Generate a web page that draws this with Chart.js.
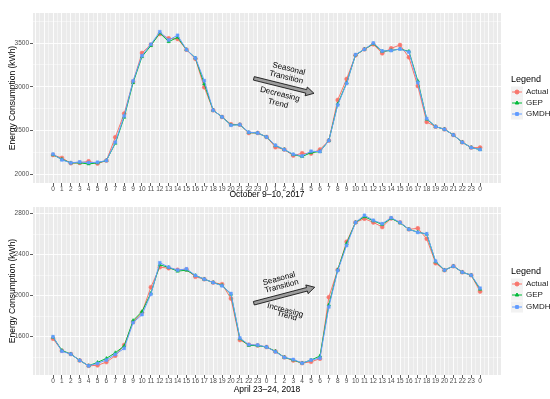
<!DOCTYPE html>
<html>
<head>
<meta charset="utf-8">
<script src="https://cdn.jsdelivr.net/npm/chart.js@4.4.0/dist/chart.umd.min.js"></script>
<style>
  html, body { margin: 0; padding: 0; background: #fff; }
  canvas { display: block; }
</style>
</head>
<body>
<canvas id="octChart" width="550" height="200"></canvas>
<canvas id="aprChart" width="550" height="199"></canvas>
<script>
// hour of day shown under each point (two days + closing midnight)
const hourLabels = [0, 1, 2, 3, 4, 5, 6, 7, 8, 9, 10, 11, 12, 13, 14, 15, 16, 17, 18, 19, 20, 21, 22, 23,
  0, 1, 2, 3, 4, 5, 6, 7, 8, 9, 10, 11, 12, 13, 14, 15, 16, 17, 18, 19, 20, 21, 22, 23, 0];

const seriesNames = ['Actual', 'GEP', 'GMDH'];

// October 9-10, 2017
const octActual = [2220, 2187, 2126, 2130, 2148, 2122, 2156, 2423, 2693, 3058, 3386, 3481, 3603, 3553, 3546, 3424,
  3320, 2994, 2731, 2655, 2571, 2567, 2472, 2472, 2426, 2310, 2282, 2213, 2240, 2236, 2282, 2385, 2849, 3089, 3360,
  3428, 3485, 3382, 3439, 3477, 3336, 3009, 2598, 2544, 2514, 2449, 2365, 2305, 2305];
const octGEP = [2222, 2171, 2130, 2130, 2118, 2130, 2156, 2354, 2651, 3047, 3344, 3470, 3614, 3515, 3565, 3424,
  3329, 3032, 2731, 2655, 2563, 2567, 2476, 2472, 2426, 2327, 2282, 2224, 2202, 2247, 2259, 2385, 2803, 3045, 3363,
  3428, 3492, 3405, 3415, 3431, 3405, 3066, 2630, 2544, 2514, 2449, 2365, 2305, 2282];
const octGMDH = [2230, 2164, 2130, 2141, 2133, 2137, 2156, 2365, 2666, 3066, 3355, 3485, 3629, 3534, 3588, 3424,
  3329, 3070, 2731, 2655, 2560, 2567, 2480, 2472, 2426, 2331, 2282, 2228, 2209, 2263, 2259, 2385, 2792, 3039, 3367,
  3428, 3500, 3409, 3413, 3431, 3397, 3047, 2636, 2544, 2514, 2449, 2365, 2305, 2282];
const octTicks = [2000, 2500, 3000, 3500];

// April 23-24, 2018
const aprActual = [1580, 1463, 1430, 1368, 1316, 1320, 1352, 1414, 1518, 1743, 1835, 2083, 2278, 2268, 2252, 2255,
  2184, 2161, 2128, 2112, 1972, 1567, 1522, 1515, 1499, 1455, 1398, 1368, 1342, 1355, 1385, 1985, 2252, 2526, 2715,
  2751, 2715, 2670, 2754, 2715, 2647, 2657, 2555, 2317, 2249, 2288, 2229, 2200, 2040];
const aprGEP = [1595, 1466, 1430, 1368, 1316, 1349, 1388, 1443, 1509, 1757, 1845, 2024, 2301, 2275, 2239, 2249,
  2197, 2161, 2128, 2100, 2014, 1580, 1515, 1512, 1499, 1458, 1398, 1372, 1342, 1372, 1411, 1910, 2252, 2510, 2715,
  2770, 2730, 2695, 2754, 2710, 2647, 2620, 2600, 2330, 2249, 2288, 2229, 2200, 2063];
const aprGMDH = [1600, 1458, 1430, 1368, 1316, 1339, 1372, 1427, 1486, 1737, 1815, 2014, 2321, 2278, 2249, 2262,
  2197, 2161, 2128, 2096, 2021, 1587, 1522, 1518, 1499, 1453, 1398, 1378, 1342, 1372, 1391, 1890, 2245, 2490, 2715,
  2784, 2735, 2702, 2760, 2715, 2647, 2617, 2604, 2337, 2249, 2288, 2229, 2200, 2073];
const aprTicks = [1600, 2000, 2400, 2800];

const colors = ['#F8766D', '#00BA38', '#619CFF'];
const shapes = ['circle', 'triangle', 'rect'];
const FONT = '"Liberation Sans", Arial, sans-serif';

Chart.defaults.font.family = FONT;

// grey ggplot panel
const panelBg = {
  id: 'panelBg',
  beforeDraw(chart) {
    const { ctx, chartArea: a } = chart;
    ctx.save();
    ctx.fillStyle = '#EBEBEB';
    ctx.fillRect(a.left, a.top, a.right - a.left, a.bottom - a.top);
    ctx.restore();
  },
};

function makeLegend(titleY, rowYs) {
  return {
    id: 'sideLegend',
    afterDraw(chart) {
      const ctx = chart.ctx;
      ctx.save();
      ctx.textBaseline = 'middle';
      ctx.textAlign = 'left';
      ctx.fillStyle = '#000';
      ctx.font = '9px ' + FONT;
      ctx.fillText('Legend', 511, titleY);
      chart.data.datasets.forEach((ds, i) => {
        const yy = rowYs[i];
        ctx.fillStyle = '#F2F2F2';
        ctx.fillRect(511, yy - 5.5, 12, 11);
        ctx.strokeStyle = ds.borderColor;
        ctx.fillStyle = ds.borderColor;
        ctx.lineWidth = 1;
        ctx.beginPath();
        ctx.moveTo(512, yy);
        ctx.lineTo(522, yy);
        ctx.stroke();
        Chart.helpers.drawPoint(ctx, { pointStyle: ds.pointStyle, radius: 2, borderWidth: 0.5, rotation: 0 }, 517, yy);
        ctx.fillStyle = '#1a1a1a';
        ctx.font = '8px ' + FONT;
        ctx.fillText(ds.label, 526, yy);
      });
      ctx.restore();
    },
  };
}

// block arrow with rotated labels, anchored in data units
function makeArrow(cfg) {
  return {
    id: 'trendArrow',
    afterDatasetsDraw(chart) {
      const { ctx, scales: { x, y } } = chart;
      const px = (p) => [x.getPixelForValue(p[0]), y.getPixelForValue(p[1])];
      const [x0, y0] = px(cfg.from);
      const [x1, y1] = px(cfg.to);
      const len = Math.hypot(x1 - x0, y1 - y0);
      ctx.save();
      ctx.translate(x0, y0);
      ctx.rotate(Math.atan2(y1 - y0, x1 - x0));
      ctx.beginPath();
      ctx.moveTo(0, -1.8);
      ctx.lineTo(len - 8, -1.8);
      ctx.lineTo(len - 8, -4.5);
      ctx.lineTo(len, 0);
      ctx.lineTo(len - 8, 4.5);
      ctx.lineTo(len - 8, 1.8);
      ctx.lineTo(0, 1.8);
      ctx.closePath();
      ctx.fillStyle = '#9c9c9c';
      ctx.fill();
      ctx.strokeStyle = '#111';
      ctx.lineWidth = 0.8;
      ctx.stroke();
      ctx.restore();

      cfg.labels.forEach((l) => {
        const [tx, ty] = px(l.at);
        ctx.save();
        ctx.translate(tx, ty);
        ctx.rotate((l.angle * Math.PI) / 180);
        ctx.font = '8px ' + FONT;
        ctx.textAlign = 'center';
        ctx.textBaseline = 'middle';
        ctx.fillStyle = '#000';
        ctx.fillText(l.text, 0, 0);
        ctx.restore();
      });
    },
  };
}

const isWhole = (c) => c.tick && Number.isInteger(c.tick.value);

function xScale(title, height) {
  const grid = [];
  for (let v = -2; v <= 50; v += 0.5) grid.push(v);
  return {
    type: 'linear',
    min: -2.25,
    max: 50.35,
    afterBuildTicks: (s) => { s.ticks = grid.map((v) => ({ value: v })); },
    afterFit: (s) => { s.height = height; },
    grid: {
      color: '#FFFFFF',
      lineWidth: (c) => (isWhole(c) ? 0.9 : 0.45),
      tickLength: 3,
      tickWidth: 0.8,
      tickColor: (c) => (isWhole(c) && c.tick.value >= 0 && c.tick.value < hourLabels.length ? '#333333' : 'rgba(0,0,0,0)'),
    },
    border: { display: false },
    ticks: {
      autoSkip: false,
      maxRotation: 0,
      padding: -1,
      color: '#4D4D4D',
      font: { size: 6.5 },
      callback: (v) => (Number.isInteger(v) && v >= 0 && v < hourLabels.length ? String(hourLabels[v]) : ''),
    },
    title: { display: true, text: title, color: '#000', font: { size: 8.5 }, padding: { top: 0, bottom: 0 } },
  };
}

function yScale(min, max, majors) {
  const step = (majors[1] - majors[0]) / 2;
  const grid = [];
  for (let v = majors[0] - step; v <= max; v += step) if (v >= min) grid.push(v);
  return {
    min,
    max,
    afterBuildTicks: (s) => { s.ticks = grid.map((v) => ({ value: v })); },
    afterFit: (s) => { s.width = 33; },
    grid: {
      color: '#FFFFFF',
      lineWidth: (c) => (c.tick && majors.includes(c.tick.value) ? 0.9 : 0.45),
      tickLength: 3,
      tickWidth: 0.8,
      tickColor: (c) => (c.tick && majors.includes(c.tick.value) ? '#333333' : 'rgba(0,0,0,0)'),
    },
    border: { display: false },
    ticks: {
      autoSkip: false,
      padding: 1,
      color: '#4D4D4D',
      font: { size: 6.5 },
      callback: (v) => (majors.includes(v) ? String(v) : ''),
    },
    title: { display: true, text: 'Energy Consumption (kWh)', color: '#000', font: { size: 8.5 }, padding: { top: 8, bottom: 0 } },
  };
}

function buildDatasets(values) {
  return values.map((vals, i) => ({
    label: seriesNames[i],
    data: vals.map((v, h) => ({ x: h, y: v })),
    borderColor: colors[i],
    backgroundColor: colors[i],
    pointBackgroundColor: colors[i],
    pointBorderColor: colors[i],
    pointStyle: shapes[i],
    pointRadius: 2,
    pointBorderWidth: 0.5,
    borderWidth: 1,
    tension: 0,
    order: 3 - i,
  }));
}

function drawPanel(id, cfg) {
  new Chart(document.getElementById(id), {
    type: 'line',
    data: { datasets: buildDatasets(cfg.values) },
    options: {
      responsive: false,
      animation: false,
      layout: { padding: cfg.padding },
      plugins: { legend: { display: false }, tooltip: { enabled: false } },
      scales: {
        x: xScale(cfg.title, cfg.xHeight),
        y: yScale(cfg.yMin, cfg.yMax, cfg.ticks),
      },
    },
    plugins: [panelBg, makeLegend(cfg.legendY, cfg.legendRows), makeArrow(cfg.arrow)],
  });
}

drawPanel('octChart', {
  values: [octActual, octGEP, octGMDH],
  ticks: octTicks,
  yMin: 1900,
  yMax: 3843,
  title: 'October 9–10, 2017',
  xHeight: 17,
  padding: { top: 13, right: 49, bottom: 0, left: 0 },
  legendY: 80,
  legendRows: [92, 103, 114],
  arrow: {
    from: [22.57, 3096],
    to: [29.33, 2925],
    labels: [
      { text: 'Seasonal', at: [26.5, 3205], angle: 14 },
      { text: 'Transition', at: [26.2, 3108], angle: 14 },
      { text: 'Decreasing', at: [25.5, 2915], angle: 14 },
      { text: 'Trend', at: [25.3, 2808], angle: 14 },
    ],
  },
});

drawPanel('aprChart', {
  values: [aprActual, aprGEP, aprGMDH],
  ticks: aprTicks,
  yMin: 1226,
  yMax: 2865,
  title: 'April 23–24, 2018',
  xHeight: 20,
  padding: { top: 7, right: 49, bottom: 4, left: 0 },
  legendY: 72,
  legendRows: [84, 95, 107],
  arrow: {
    from: [22.57, 1926],
    to: [29.41, 2082],
    labels: [
      { text: 'Seasonal', at: [25.4, 2165], angle: -15 },
      { text: 'Transition', at: [25.7, 2092], angle: -15 },
      { text: 'Increasing', at: [26.1, 1858], angle: 15 },
      { text: 'Trend', at: [26.3, 1803], angle: 15 },
    ],
  },
});
</script>
</body>
</html>
